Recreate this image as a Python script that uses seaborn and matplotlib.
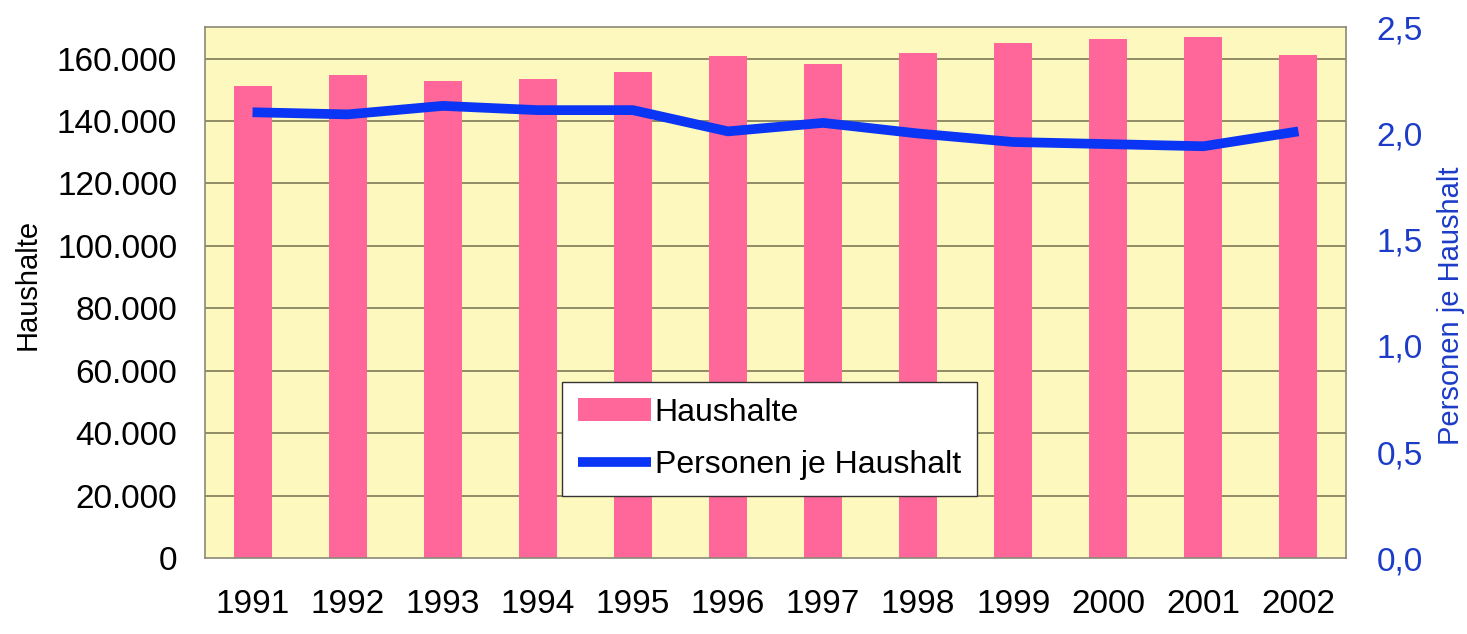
import numpy as np
import pandas as pd
import matplotlib
matplotlib.use("Agg")
import matplotlib.pyplot as plt
from matplotlib.ticker import FuncFormatter
import seaborn as sns

# data
years = ['1991', '1992', '1993', '1994', '1995', '1996',
         '1997', '1998', '1999', '2000', '2001', '2002']
haushalte = [151200, 154700, 152800, 153400, 155700, 160800,
             158200, 161900, 164900, 166100, 167000, 161000]
personen_je_haushalt = [2.10, 2.09, 2.13, 2.11, 2.11, 2.01,
                        2.05, 2.00, 1.96, 1.95, 1.94, 2.01]
left_ticks = [0, 20000, 40000, 60000, 80000, 100000, 120000, 140000, 160000]
right_ticks = [0.0, 0.5, 1.0, 1.5, 2.0, 2.5]

df = pd.DataFrame({'Jahr': years, 'Haushalte': haushalte,
                   'Personen': personen_je_haushalt})
df['pos'] = np.arange(len(df))

sns.set_theme(style="white")
plt.rcParams['font.family'] = ['Liberation Sans', 'DejaVu Sans']
plt.rcParams['text.color'] = 'black'

pink = '#FF6699'
blue = '#0A35F5'
blue_txt = '#1C3CC8'

fig = plt.figure(figsize=(14.67, 6.34), dpi=100)
ax = fig.add_axes([205 / 1467, 1 - 558.3 / 634, 1141 / 1467, 531 / 634])
ax.set_facecolor('#FCF8BE')

sns.barplot(data=df, x='Jahr', y='Haushalte', color=pink, width=0.4,
            saturation=1, linewidth=0, ax=ax, zorder=2, label='Haushalte')
if ax.get_legend() is not None:
    ax.get_legend().remove()
ax.set_xlim(-0.5, len(years) - 0.5)
ax.set_ylim(0, 170000)
ax.set_yticks(left_ticks)
ax.yaxis.set_major_formatter(FuncFormatter(lambda v, p: f"{int(v):,}".replace(',', '.')))
for t in left_ticks[1:]:
    ax.axhline(t, color='#8F8C66', lw=1.4, zorder=1)

ax.tick_params(axis='both', length=0, labelsize=24, colors='black')
ax.tick_params(axis='y', pad=20)
ax.tick_params(axis='x', pad=22)
ax.set_xlabel('')
ax.set_ylabel('Haushalte', fontsize=21, color='black')
ax.yaxis.set_label_coords(-0.143, 0.515)
for s in ax.spines.values():
    s.set_color('#8A8A78')
    s.set_linewidth(1.2)

ax2 = ax.twinx()
sns.lineplot(data=df, x='pos', y='Personen', color=blue, lw=7, ax=ax2,
             label='Personen je Haushalt', legend=False,
             solid_capstyle='butt', solid_joinstyle='round')
ax2.set_ylim(0, 2.5)
ax2.set_yticks(right_ticks)
ax2.yaxis.set_major_formatter(FuncFormatter(lambda v, p: f"{v:.1f}".replace('.', ',')))
ax2.tick_params(axis='y', length=0, labelsize=24, colors=blue_txt, pad=22)
ax2.set_xlabel('')
ax2.set_ylabel('Personen je Haushalt', fontsize=21, color=blue_txt)
ax2.yaxis.set_label_coords(1.08, 0.475)
for s in ax2.spines.values():
    s.set_visible(False)

h1, l1 = ax.get_legend_handles_labels()
h2, l2 = ax2.get_legend_handles_labels()
leg = ax2.legend(h1 + h2, l1 + l2, loc='upper left',
                 bbox_to_anchor=(562 / 1467, 1 - 381.7 / 634),
                 bbox_transform=fig.transFigure, borderaxespad=0,
                 fontsize=23, frameon=True, fancybox=False, framealpha=1,
                 handlelength=2.3, handletextpad=0.1, labelspacing=0.7,
                 borderpad=0.5)
leg.get_frame().set_edgecolor('#333333')
leg.get_frame().set_linewidth(1.0)
for txt in leg.get_texts():
    txt.set_color('black')

fig.savefig('out.png', dpi=100, facecolor='white')
